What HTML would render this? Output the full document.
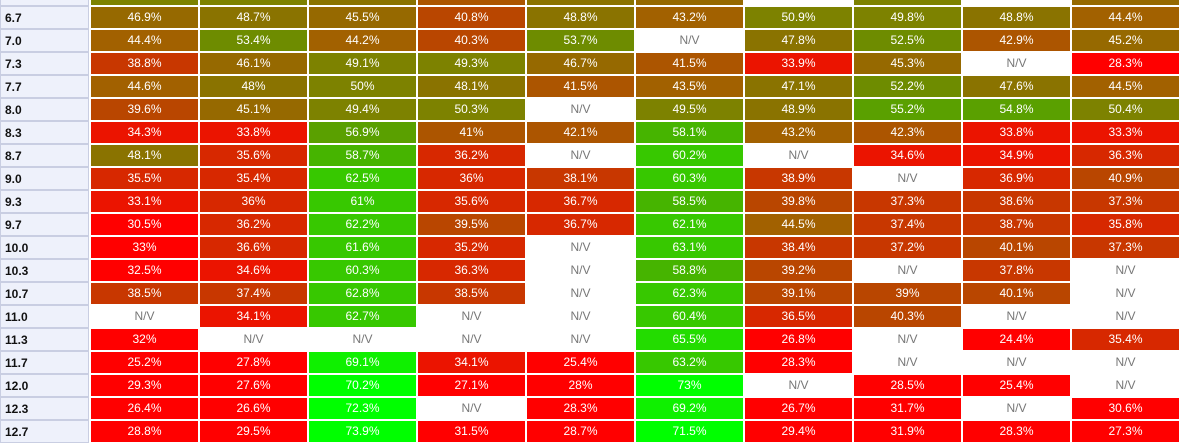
<!DOCTYPE html>
<html><head><meta charset="utf-8"><style>
body{margin:0;width:1181px;height:442px;overflow:hidden;background:#fff;font-family:"Liberation Sans",sans-serif;}
.w{margin-top:-16px;}
.r{display:flex;height:21px;margin-bottom:2px;}
.r div{width:107px;margin-left:2px;height:21px;line-height:21px;text-align:center;color:#fff;font-size:12px;flex:none;}
.r div.l{width:89px;margin-left:0;margin-top:-1px;height:23px;line-height:23px;box-sizing:border-box;background:#eef1fb;border:1px solid #c9cee2;text-align:left;padding-left:4px;color:#111;font-weight:bold;}
.a{background:rgb(255,0,0)}.b{background:rgb(235,20,0)}.c{background:rgb(215,40,0)}.d{background:rgb(200,55,0)}
.e{background:rgb(185,70,0)}.f{background:rgb(172,85,0)}.g{background:rgb(162,97,0)}.h{background:rgb(150,105,0)}
.i{background:rgb(138,115,0)}.j{background:rgb(125,130,0)}.k{background:rgb(110,140,0)}.m1{background:rgb(90,160,0)}
.m{background:rgb(70,180,0)}.n{background:rgb(55,200,0)}.o{background:rgb(35,220,0)}.p{background:rgb(15,240,0)}
.q{background:rgb(0,255,0)}.r div.x{background:#fff;color:#777;}
</style></head><body><div class="w">
<div class="r"><div class="l"></div><div class="j"></div><div class="j"></div><div class="i"></div><div class="f"></div><div class="i"></div><div class="h"></div><div class="x"></div><div class="j"></div><div class="x"></div><div class="h"></div></div>
<div class="r"><div class="l">6.7</div><div class="h">46.9%</div><div class="i">48.7%</div><div class="h">45.5%</div><div class="e">40.8%</div><div class="i">48.8%</div><div class="g">43.2%</div><div class="j">50.9%</div><div class="j">49.8%</div><div class="i">48.8%</div><div class="g">44.4%</div></div>
<div class="r"><div class="l">7.0</div><div class="g">44.4%</div><div class="k">53.4%</div><div class="g">44.2%</div><div class="e">40.3%</div><div class="k">53.7%</div><div class="x">N/V</div><div class="i">47.8%</div><div class="k">52.5%</div><div class="f">42.9%</div><div class="h">45.2%</div></div>
<div class="r"><div class="l">7.3</div><div class="d">38.8%</div><div class="h">46.1%</div><div class="j">49.1%</div><div class="j">49.3%</div><div class="h">46.7%</div><div class="f">41.5%</div><div class="b">33.9%</div><div class="h">45.3%</div><div class="x">N/V</div><div class="a">28.3%</div></div>
<div class="r"><div class="l">7.7</div><div class="g">44.6%</div><div class="i">48%</div><div class="j">50%</div><div class="i">48.1%</div><div class="f">41.5%</div><div class="g">43.5%</div><div class="i">47.1%</div><div class="k">52.2%</div><div class="i">47.6%</div><div class="g">44.5%</div></div>
<div class="r"><div class="l">8.0</div><div class="e">39.6%</div><div class="h">45.1%</div><div class="j">49.4%</div><div class="j">50.3%</div><div class="x">N/V</div><div class="j">49.5%</div><div class="i">48.9%</div><div class="m1">55.2%</div><div class="m1">54.8%</div><div class="j">50.4%</div></div>
<div class="r"><div class="l">8.3</div><div class="b">34.3%</div><div class="b">33.8%</div><div class="m1">56.9%</div><div class="f">41%</div><div class="f">42.1%</div><div class="m">58.1%</div><div class="g">43.2%</div><div class="f">42.3%</div><div class="b">33.8%</div><div class="b">33.3%</div></div>
<div class="r"><div class="l">8.7</div><div class="i">48.1%</div><div class="c">35.6%</div><div class="m">58.7%</div><div class="c">36.2%</div><div class="x">N/V</div><div class="n">60.2%</div><div class="x">N/V</div><div class="b">34.6%</div><div class="b">34.9%</div><div class="c">36.3%</div></div>
<div class="r"><div class="l">9.0</div><div class="c">35.5%</div><div class="c">35.4%</div><div class="n">62.5%</div><div class="c">36%</div><div class="d">38.1%</div><div class="n">60.3%</div><div class="d">38.9%</div><div class="x">N/V</div><div class="c">36.9%</div><div class="e">40.9%</div></div>
<div class="r"><div class="l">9.3</div><div class="b">33.1%</div><div class="c">36%</div><div class="n">61%</div><div class="c">35.6%</div><div class="c">36.7%</div><div class="m">58.5%</div><div class="e">39.8%</div><div class="d">37.3%</div><div class="d">38.6%</div><div class="d">37.3%</div></div>
<div class="r"><div class="l">9.7</div><div class="a">30.5%</div><div class="c">36.2%</div><div class="n">62.2%</div><div class="e">39.5%</div><div class="c">36.7%</div><div class="n">62.1%</div><div class="g">44.5%</div><div class="d">37.4%</div><div class="d">38.7%</div><div class="c">35.8%</div></div>
<div class="r"><div class="l">10.0</div><div class="a">33%</div><div class="c">36.6%</div><div class="n">61.6%</div><div class="c">35.2%</div><div class="x">N/V</div><div class="n">63.1%</div><div class="d">38.4%</div><div class="d">37.2%</div><div class="e">40.1%</div><div class="d">37.3%</div></div>
<div class="r"><div class="l">10.3</div><div class="a">32.5%</div><div class="b">34.6%</div><div class="n">60.3%</div><div class="c">36.3%</div><div class="x">N/V</div><div class="m">58.8%</div><div class="e">39.2%</div><div class="x">N/V</div><div class="d">37.8%</div><div class="x">N/V</div></div>
<div class="r"><div class="l">10.7</div><div class="d">38.5%</div><div class="d">37.4%</div><div class="n">62.8%</div><div class="d">38.5%</div><div class="x">N/V</div><div class="n">62.3%</div><div class="e">39.1%</div><div class="e">39%</div><div class="e">40.1%</div><div class="x">N/V</div></div>
<div class="r"><div class="l">11.0</div><div class="x">N/V</div><div class="b">34.1%</div><div class="n">62.7%</div><div class="x">N/V</div><div class="x">N/V</div><div class="n">60.4%</div><div class="c">36.5%</div><div class="e">40.3%</div><div class="x">N/V</div><div class="x">N/V</div></div>
<div class="r"><div class="l">11.3</div><div class="a">32%</div><div class="x">N/V</div><div class="x">N/V</div><div class="x">N/V</div><div class="x">N/V</div><div class="o">65.5%</div><div class="a">26.8%</div><div class="x">N/V</div><div class="a">24.4%</div><div class="c">35.4%</div></div>
<div class="r"><div class="l">11.7</div><div class="a">25.2%</div><div class="a">27.8%</div><div class="p">69.1%</div><div class="b">34.1%</div><div class="a">25.4%</div><div class="n">63.2%</div><div class="a">28.3%</div><div class="x">N/V</div><div class="x">N/V</div><div class="x">N/V</div></div>
<div class="r"><div class="l">12.0</div><div class="a">29.3%</div><div class="a">27.6%</div><div class="q">70.2%</div><div class="a">27.1%</div><div class="a">28%</div><div class="q">73%</div><div class="x">N/V</div><div class="a">28.5%</div><div class="a">25.4%</div><div class="x">N/V</div></div>
<div class="r"><div class="l">12.3</div><div class="a">26.4%</div><div class="a">26.6%</div><div class="q">72.3%</div><div class="x">N/V</div><div class="a">28.3%</div><div class="p">69.2%</div><div class="a">26.7%</div><div class="a">31.7%</div><div class="x">N/V</div><div class="a">30.6%</div></div>
<div class="r"><div class="l">12.7</div><div class="a">28.8%</div><div class="a">29.5%</div><div class="q">73.9%</div><div class="a">31.5%</div><div class="a">28.7%</div><div class="q">71.5%</div><div class="a">29.4%</div><div class="a">31.9%</div><div class="a">28.3%</div><div class="a">27.3%</div></div>
</div></body></html>
